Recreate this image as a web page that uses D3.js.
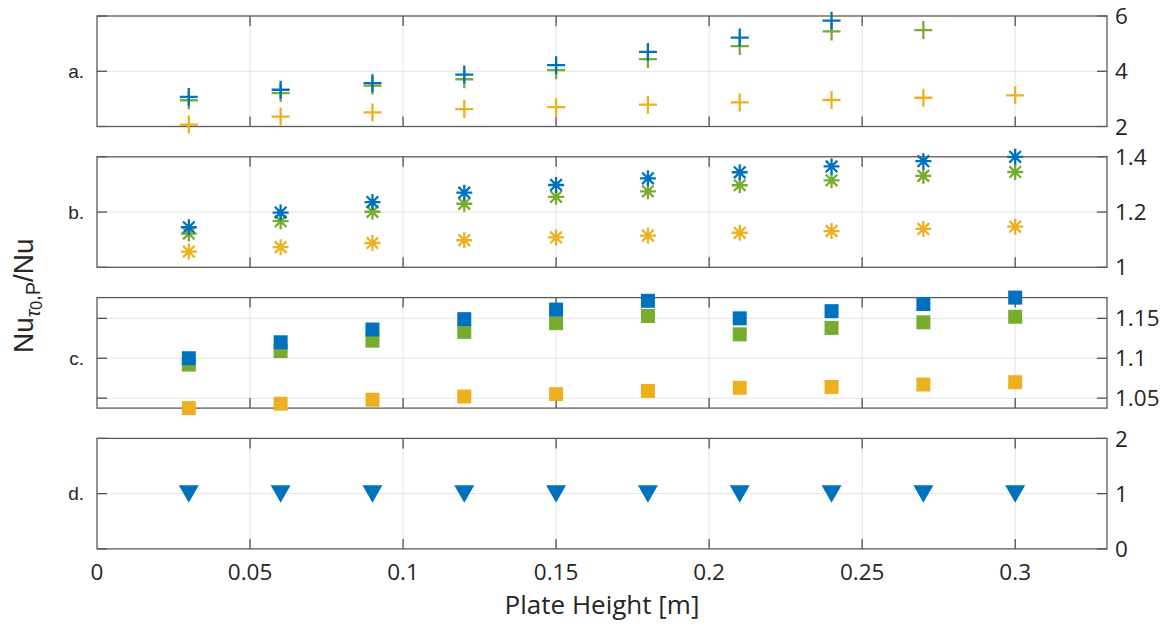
<!DOCTYPE html>
<html>
<head>
<meta charset="utf-8">
<script src="https://cdn.jsdelivr.net/npm/d3@7"></script>
<style>
  html, body { margin: 0; padding: 0; background: #fff; }
  svg { display: block; }
  text { fill: #262626; }
</style>
</head>
<body>
<svg id="chart" width="1170" height="626"></svg>
<script>
// Plate heights [m]
const plateHeights = [0.03, 0.06, 0.09, 0.12, 0.15, 0.18, 0.21, 0.24, 0.27, 0.30];
const xTicks = [0, 0.05, 0.1, 0.15, 0.2, 0.25, 0.3];

// Panel a (plus markers)
const aBlue   = [3.07, 3.33, 3.57, 3.88, 4.22, 4.70, 5.22, 5.83, null, null];
const aGreen  = [2.95, 3.21, 3.48, 3.71, 4.04, 4.44, 4.91, 5.44, 5.49, null];
const aYellow = [2.07, 2.36, 2.51, 2.63, 2.70, 2.79, 2.87, 2.96, 3.04, 3.13];
const aTicks  = [2, 4, 6];

// Panel b (asterisks)
const bBlue   = [1.145, 1.198, 1.236, 1.270, 1.298, 1.322, 1.344, 1.365, 1.384, 1.400];
const bGreen  = [1.122, 1.167, 1.201, 1.230, 1.255, 1.275, 1.297, 1.315, 1.331, 1.345];
const bYellow = [1.057, 1.073, 1.088, 1.098, 1.108, 1.115, 1.125, 1.131, 1.139, 1.147];
const bTicks  = [1, 1.2, 1.4];

// Panel c (squares)
const cBlue   = [1.100, 1.120, 1.136, 1.149, 1.161, 1.172, 1.150, 1.159, 1.168, 1.176];
const cGreen  = [1.092, 1.109, 1.122, 1.133, 1.144, 1.153, 1.130, 1.138, 1.145, 1.152];
const cYellow = [1.0375, 1.043, 1.048, 1.052, 1.055, 1.059, 1.063, 1.064, 1.067, 1.070];
const cTicks  = [1.05, 1.1, 1.15];

// Panel d (down triangles)
const dBlue  = [1, 1, 1, 1, 1, 1, 1, 1, 1, 1];
const dTicks = [0, 1, 2];

const BLUE = "#0072BD", YELLOW = "#EDB120", GREEN = "#77AC30";

const svg = d3.select("#chart");
const left = 97, right = 1107;
const panelH = 110.5, panelStep = 140.8, firstTop = 16;
const tickFont = "'Open Sans', sans-serif";

const x = d3.scaleLinear().domain([0, 0.33]).range([left, right]);

const panels = [
  { tag: "a.", ticks: aTicks, domain: [2, 6], marker: "plus",
    series: [[aYellow, YELLOW], [aGreen, GREEN], [aBlue, BLUE]] },
  { tag: "b.", ticks: bTicks, domain: [1, 1.4], marker: "star",
    series: [[bYellow, YELLOW], [bGreen, GREEN], [bBlue, BLUE]] },
  { tag: "c.", ticks: cTicks,
    domain: d3.extent([...cBlue, ...cGreen, ...cYellow]), marker: "square",
    series: [[cYellow, YELLOW], [cGreen, GREEN], [cBlue, BLUE]] },
  { tag: "d.", ticks: dTicks, domain: [0, 2], marker: "tri",
    series: [[dBlue, BLUE]] }
];

const tickFmt = d => String(+d.toFixed(3));

function markerPath(kind) {
  switch (kind) {
    case "plus": return "M-9,0H9M0,-9V9";
    case "star": {
      const r = 8, q = 5.8;
      return `M${-r},0H${r}M0,${-r}V${r}M${-q},${-q}L${q},${q}M${-q},${q}L${q},${-q}`;
    }
    case "square": return "M-7,-7H7V7H-7Z";
    case "tri": return "M-10,-8.5H10L0,9Z";
  }
}

panels.forEach((p, i) => {
  const top = firstTop + i * panelStep;
  const bottom = top + panelH;
  const y = d3.scaleLinear().domain(p.domain).range([bottom, top]);
  const g = svg.append("g");

  // grid
  g.append("g").selectAll("line").data(xTicks.filter(t => t > 0)).join("line")
    .attr("x1", d => x(d)).attr("x2", d => x(d))
    .attr("y1", top).attr("y2", bottom)
    .attr("stroke", "#e3e3e3").attr("stroke-width", 1);
  g.append("g").selectAll("line").data(p.ticks.filter(t => y(t) > top + 1 && y(t) < bottom - 1)).join("line")
    .attr("x1", left).attr("x2", right)
    .attr("y1", d => y(d)).attr("y2", d => y(d))
    .attr("stroke", "#e3e3e3").attr("stroke-width", 1);

  // inward ticks: bottom, top, left, right
  const tickStyle = sel => sel.attr("stroke", "#444").attr("stroke-width", 1.2);
  const xt = xTicks.filter(t => t > 0);
  g.append("g").selectAll("line").data(xt).join("line")
    .attr("x1", d => x(d)).attr("x2", d => x(d))
    .attr("y1", bottom).attr("y2", bottom - 10).call(tickStyle);
  g.append("g").selectAll("line").data(xt).join("line")
    .attr("x1", d => x(d)).attr("x2", d => x(d))
    .attr("y1", top).attr("y2", top + 10).call(tickStyle);
  g.append("g").selectAll("line").data(p.ticks).join("line")
    .attr("x1", left).attr("x2", left + 10)
    .attr("y1", d => y(d)).attr("y2", d => y(d)).call(tickStyle);
  g.append("g").selectAll("line").data(p.ticks).join("line")
    .attr("x1", right).attr("x2", right - 10)
    .attr("y1", d => y(d)).attr("y2", d => y(d)).call(tickStyle);

  // frame
  g.append("rect")
    .attr("x", left).attr("y", top)
    .attr("width", right - left).attr("height", bottom - top)
    .attr("fill", "none").attr("stroke", "#5a5a5a").attr("stroke-width", 1.3);

  // right tick labels
  g.append("g").selectAll("text").data(p.ticks).join("text")
    .attr("x", right + 8).attr("y", d => y(d))
    .attr("dy", "0.36em")
    .attr("font-family", tickFont).attr("font-size", 22.5)
    .text(tickFmt);

  // panel letter on the middle left tick
  g.append("text")
    .attr("x", left - 13).attr("y", y(p.ticks[1])).attr("dy", "0.36em")
    .attr("text-anchor", "end")
    .attr("font-family", "'Liberation Sans', Arial, sans-serif").attr("font-size", 19)
    .text(p.tag);

  // markers
  const mp = markerPath(p.marker);
  const filled = p.marker === "square" || p.marker === "tri";
  p.series.forEach(([vals, color]) => {
    const pts = plateHeights.map((h, k) => [h, vals[k]]).filter(d => d[1] != null);
    g.append("g").selectAll("path").data(pts).join("path")
      .attr("transform", d => `translate(${x(d[0])},${y(d[1])})`)
      .attr("d", mp)
      .attr("fill", filled ? color : "none")
      .attr("stroke", filled ? "none" : color)
      .attr("stroke-width", 2.3);
  });

  // x tick labels under the last panel
  if (i === panels.length - 1) {
    g.append("g").selectAll("text").data(xTicks).join("text")
      .attr("x", d => x(d)).attr("y", bottom + 22.5)
      .attr("dy", "0.36em").attr("text-anchor", "middle")
      .attr("font-family", tickFont).attr("font-size", 22.5)
      .text(tickFmt);
    g.append("text")
      .attr("x", (left + right) / 2).attr("y", bottom + 56)
      .attr("dy", "0.36em").attr("text-anchor", "middle")
      .attr("font-family", tickFont).attr("font-size", 26)
      .text("Plate Height [m]");
  }
});

// y-axis title: Nu_{τ0,P}/Nu, running bottom-to-top from its baseline start
const yt = svg.append("text")
  .attr("transform", "translate(33,353) rotate(-90)")
  .attr("font-family", "'Liberation Sans', Arial, sans-serif").attr("font-size", 28);
yt.append("tspan").text("Nu");
yt.append("tspan").attr("dy", 7).attr("font-size", 20).attr("font-style", "italic").text("τ");
yt.append("tspan").attr("dy", 2).attr("font-size", 16).text("0");
yt.append("tspan").attr("dy", -2).attr("font-size", 20).text(",P");
yt.append("tspan").attr("dy", -7).text("/Nu");
</script>
</body>
</html>
